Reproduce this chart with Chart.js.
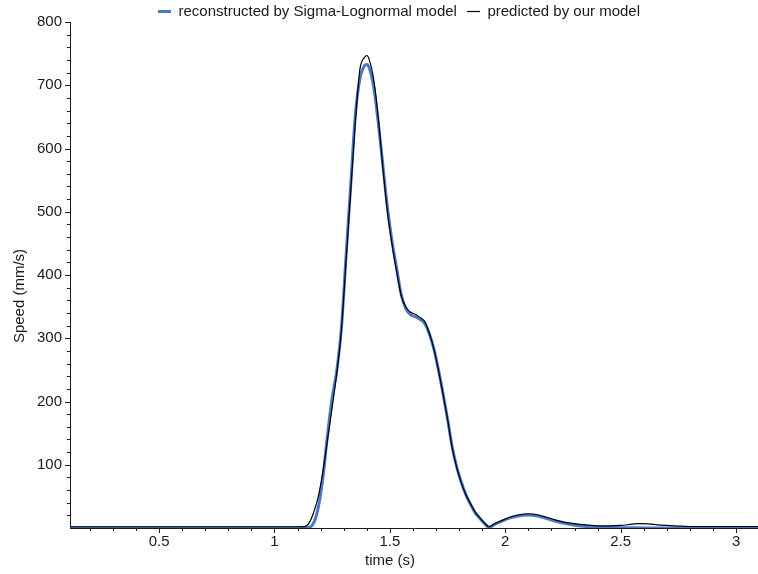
<!DOCTYPE html>
<html>
<head>
<meta charset="utf-8">
<script src="https://cdn.jsdelivr.net/npm/chart.js@4.4.1/dist/chart.umd.min.js"></script>
<style>
  html, body { margin: 0; padding: 0; background: #fff; }
  #wrap { width: 758px; height: 574px; }
</style>
</head>
<body>
<div id="wrap"><canvas id="chart"></canvas></div>
<script>
// time (s), shared by both curves
var TIME = [0.114, 0.5, 1.0, 1.10, 1.13, 1.15, 1.17, 1.19, 1.21, 1.23,
            1.25, 1.27, 1.29, 1.31, 1.33, 1.35, 1.37, 1.39, 1.40, 1.41,
            1.43, 1.45, 1.47, 1.49, 1.51, 1.53, 1.55, 1.57, 1.59, 1.61,
            1.63, 1.65, 1.67, 1.69, 1.71, 1.73, 1.75, 1.77, 1.79, 1.81,
            1.83, 1.85, 1.87, 1.89, 1.91, 1.93, 1.95, 1.98, 2.02, 2.06,
            2.10, 2.14, 2.18, 2.22, 2.26, 2.30, 2.35, 2.40, 2.45, 2.50,
            2.55, 2.58, 2.62, 2.66, 2.70, 2.75, 2.80, 2.90, 3.00, 3.095];

// speed (mm/s), reconstructed by Sigma-Lognormal model
var SIGMA_LOG = [0.5, 0.5, 0.5, 0.5, 0.5, 1, 8, 33, 80, 148,
                 206, 249, 316, 430, 540, 652, 710, 731, 733, 728,
                 697, 640, 572, 505, 452, 409, 368, 346, 337, 334,
                 330, 324, 308, 284, 251, 213, 172, 128, 96, 72,
                 52, 37, 24, 15, 7, 1, 5, 10, 16, 19.5,
                 20.5, 19, 15, 10.5, 7, 4.5, 2.5, 1.5, 1, 0.5,
                 0.3, 0.2, 0.1, 0, 0, 0, 0, 0, 0, 0];

// speed (mm/s), predicted by our model
var PREDICTED = [2, 2, 2, 2, 2.2, 8, 25, 50, 90, 140,
                 191, 245, 313, 421, 531, 639, 725, 744, 747, 741,
                 709, 648, 568, 498, 447, 404, 366, 349, 341, 338,
                 333, 327, 309, 284, 250, 212, 172, 127, 95, 71,
                 52, 38, 25, 16, 8, 2, 6, 11, 17, 21,
                 22.5, 21, 17, 12.5, 9, 7, 5, 3.5, 3.5, 4,
                 6, 7, 6.5, 5, 4, 3, 2.4, 2.4, 2.4, 2.4];

var X_MIN = 0.114, X_MAX = 3.095;
var Y_MIN = 0, Y_MAX = 800;

var FONT = '"Liberation Sans", Arial, sans-serif';
var INK = '#1a1a1a';

function points(values) {
  return TIME.map(function(t, i) { return {x: t, y: values[i]}; });
}

function isMultiple(v, step) {
  var r = v / step;
  return Math.abs(r - Math.round(r)) < 1e-6;
}

// minor / major tick marks, axis titles and legend placed like the original figure
var axisDecor = {
  id: 'axisDecor',
  afterInit: function(chart) {
    var fit = chart.legend.fit;
    chart.legend.fit = function() {
      fit.call(this);
      this.height = 28;
    };
  },
  afterLayout: function(chart) {
    chart.legend.left += 40;
  },
  afterDraw: function(chart) {
    var ctx = chart.ctx, xs = chart.scales.x, ys = chart.scales.y;
    ctx.save();
    ctx.strokeStyle = INK;
    ctx.lineWidth = 1;
    ctx.beginPath();
    xs.ticks.forEach(function(t) {
      var px = Math.round(xs.getPixelForValue(t.value)) + 0.5;
      var len = isMultiple(t.value, 0.5) ? 5 : 3;
      ctx.moveTo(px, xs.top);
      ctx.lineTo(px, xs.top + len);
    });
    ys.ticks.forEach(function(t) {
      if (t.value === 0) return;
      var py = Math.round(ys.getPixelForValue(t.value)) + 0.5;
      var len = isMultiple(t.value, 100) ? 5 : 3;
      ctx.moveTo(ys.right, py);
      ctx.lineTo(ys.right - len, py);
    });
    ctx.stroke();

    ctx.fillStyle = INK;
    ctx.font = '15px ' + FONT;
    ctx.textAlign = 'center';
    ctx.textBaseline = 'middle';
    ctx.fillText('time (s)', 390, 561);
    ctx.translate(19.5, 296);
    ctx.rotate(-Math.PI / 2);
    ctx.fillText('Speed (mm/s)', 0, 0);
    ctx.restore();
  }
};

var chart = new Chart(document.getElementById('chart'), {
  type: 'line',
  data: {
    datasets: [{
      label: 'predicted by our model',
      data: points(PREDICTED),
      borderColor: '#000000',
      backgroundColor: '#000000',
      borderWidth: 1.2,
      pointRadius: 0,
      cubicInterpolationMode: 'monotone'
    }, {
      label: 'reconstructed by Sigma-Lognormal model',
      data: points(SIGMA_LOG),
      borderColor: '#4a78c8',
      backgroundColor: '#4a78c8',
      borderWidth: 3,
      pointRadius: 0,
      cubicInterpolationMode: 'monotone'
    }]
  },
  options: {
    responsive: true,
    maintainAspectRatio: false,
    animation: false,
    layout: { padding: { top: -6, left: 0, right: 0, bottom: 0 } },
    plugins: {
      tooltip: { enabled: false },
      legend: {
        position: 'top',
        reverse: true,
        labels: {
          usePointStyle: true,
          pointStyle: 'line',
          pointStyleWidth: 13,
          boxWidth: 13,
          padding: 10,
          color: INK,
          font: { family: FONT, size: 15 }
        }
      }
    },
    scales: {
      x: {
        type: 'linear',
        min: X_MIN,
        max: X_MAX,
        afterFit: function(scale) { scale.height = 46; },
        border: { display: true, color: INK, width: 1 },
        grid: { drawOnChartArea: false, drawTicks: true, tickLength: 5, tickColor: 'rgba(0,0,0,0)' },
        ticks: {
          stepSize: 0.1,
          includeBounds: false,
          autoSkip: false,
          maxRotation: 0,
          padding: 0,
          color: INK,
          font: { family: FONT, size: 15 },
          callback: function(v) {
            return isMultiple(v, 0.5) ? String(+v.toFixed(1)) : '';
          }
        }
      },
      y: {
        type: 'linear',
        min: Y_MIN,
        max: Y_MAX,
        afterFit: function(scale) { scale.width = 70; },
        border: { display: true, color: INK, width: 1 },
        grid: { drawOnChartArea: false, drawTicks: true, tickLength: 5, tickColor: 'rgba(0,0,0,0)' },
        ticks: {
          stepSize: 20,
          autoSkip: false,
          padding: 3,
          color: INK,
          font: { family: FONT, size: 15 },
          callback: function(v) {
            return (v !== 0 && isMultiple(v, 100)) ? String(v) : '';
          }
        }
      }
    }
  },
  plugins: [axisDecor]
});
</script>
</body>
</html>
